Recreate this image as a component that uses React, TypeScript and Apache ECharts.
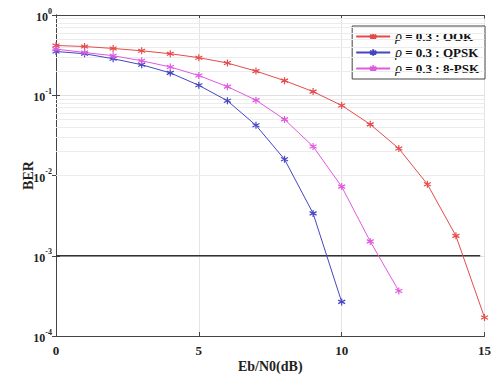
import React, { useEffect, useRef } from "react";
import * as echarts from "echarts";

const snrDb = [0, 1, 2, 3, 4, 5, 6, 7, 8, 9, 10, 11, 12, 13, 14, 15];
const berOOK = [0.417, 0.405, 0.383, 0.358, 0.329, 0.294, 0.252, 0.2, 0.152, 0.111, 0.0746, 0.0434, 0.0217, 0.00778, 0.00177, 0.00017];
const berQPSK = [0.351, 0.329, 0.285, 0.24, 0.19, 0.133, 0.0853, 0.0422, 0.0159, 0.00337, 0.000266];
const ber8PSK = [0.376, 0.341, 0.311, 0.269, 0.225, 0.176, 0.128, 0.0869, 0.05, 0.023, 0.00727, 0.00151, 0.000364];
const thresholdBER = 0.001;
const seriesNames = ["\u03c1 = 0.3 : OOK", "\u03c1 = 0.3 : QPSK", "\u03c1 = 0.3 : 8-PSK"];
const seriesColors = ["#e54b4b", "#4646c4", "#e05ae0"];

const FONT = "Liberation Serif";
const STAR = "path://M5,0L5,10M0.67,2.5L9.33,7.5M0.67,7.5L9.33,2.5";

function minorValues(): number[] {
  const out: number[] = [];
  for (let e = -4; e < 0; e++) {
    for (let m = 2; m <= 9; m++) out.push(m * Math.pow(10, e));
  }
  return out;
}

export default function App() {
  const ref = useRef<HTMLDivElement>(null);
  useEffect(() => {
    if (!ref.current) return;
    const chart = echarts.init(ref.current, null, { renderer: "svg" });
    const mk = (vals: number[], i: number) => ({
      name: seriesNames[i],
      type: "line",
      data: vals.map((v, k) => [snrDb[k], v]),
      symbol: STAR,
      symbolSize: 7,
      showSymbol: true,
      lineStyle: { color: seriesColors[i], width: 1 },
      itemStyle: { color: seriesColors[i], borderColor: seriesColors[i], borderWidth: 1.2 },
      z: 5 + i,
    });
    const yLabel = (v: number) => {
      const e = Math.round(Math.log10(v));
      return `{b|10}{s|${e}}`;
    };
    chart.setOption({
      animation: false,
      backgroundColor: "#ffffff",
      grid: { left: 56, right: 8, top: 15, bottom: 40, containLabel: false },
      legend: {
        data: seriesNames,
        orient: "vertical",
        right: 9,
        top: 26,
        itemWidth: 34,
        itemHeight: 8,
        itemGap: 1,
        padding: [3, 6, 3, 3],
        backgroundColor: "#ffffff",
        borderColor: "#444",
        borderWidth: 1,
        textStyle: {
          fontFamily: FONT,
          fontSize: 13,
          color: "#111",
          lineHeight: 15,
          rich: {
            i: { fontFamily: FONT, fontStyle: "italic", fontSize: 14, color: "#111", lineHeight: 15 },
            b: { fontFamily: FONT, fontWeight: "bold", fontSize: 13, color: "#111", lineHeight: 15 },
          },
        },
        formatter: (n: string) => `{i|\u03c1}{b|${n.slice(1)}}`,
      },
      xAxis: [
        {
          type: "value",
          min: 0,
          max: 15,
          interval: 5,
          name: "Eb/N0(dB)",
          nameLocation: "middle",
          nameGap: 23,
          nameMoveOverlap: false,
          nameTextStyle: { fontFamily: FONT, fontWeight: "bold", fontSize: 14, color: "#222" },
          axisLine: { lineStyle: { color: "#444", width: 1 } },
          axisTick: { inside: true, length: 4, lineStyle: { color: "#444" } },
          axisLabel: { fontFamily: FONT, fontWeight: "bold", fontSize: 13, color: "#222", margin: 8 },
          splitLine: { show: true, lineStyle: { color: "#e4e4e4", width: 1 } },
        },
        {
          type: "value",
          min: 0,
          max: 15,
          interval: 5,
          position: "top",
          axisLine: { show: true, lineStyle: { color: "#444", width: 1 } },
          axisTick: { show: true, inside: true, length: 4, lineStyle: { color: "#444" } },
          axisLabel: { show: false },
          splitLine: { show: false },
        },
      ],
      yAxis: [
        {
          type: "log",
          logBase: 10,
          min: 0.0001,
          max: 1,
          name: "BER",
          nameLocation: "middle",
          nameGap: 21,
          nameMoveOverlap: false,
          nameRotate: 90,
          nameTextStyle: { fontFamily: FONT, fontWeight: "bold", fontSize: 14, color: "#222" },
          axisLine: { show: true, lineStyle: { color: "#444", width: 1 } },
          axisTick: { show: true, inside: true, length: 4, lineStyle: { color: "#444" } },
          axisLabel: {
            formatter: yLabel,
            margin: 4,
            rich: {
              b: { fontFamily: FONT, fontWeight: "bold", fontSize: 12, color: "#222", verticalAlign: "bottom", lineHeight: 16 },
              s: { fontFamily: FONT, fontWeight: "bold", fontSize: 8, color: "#222", verticalAlign: "top", lineHeight: 10 },
            },
          },
          splitLine: { show: true, lineStyle: { color: "#e0e0e0", width: 1 } },
        },
        {
          type: "log",
          logBase: 10,
          min: 0.0001,
          max: 1,
          position: "right",
          axisLine: { show: true, lineStyle: { color: "#444", width: 1 } },
          axisTick: { show: true, inside: true, length: 4, lineStyle: { color: "#444" } },
          axisLabel: { show: false },
          splitLine: { show: false },
        },
      ],
      series: [
        {
          name: "minor",
          type: "line",
          data: [],
          silent: true,
          markLine: {
            silent: true,
            symbol: "none",
            label: { show: false },
            lineStyle: { color: "#ececec", width: 1, type: "solid" },
            data: minorValues().map((v) => ({ yAxis: v })),
          },
          z: 1,
        },
        {
          name: "threshold",
          type: "line",
          data: [
            [snrDb[0], thresholdBER],
            [snrDb[snrDb.length - 1] - 0.15, thresholdBER],
          ],
          showSymbol: false,
          symbol: "none",
          lineStyle: { color: "#333", width: 1.5 },
          z: 4,
        },
        mk(berOOK, 0),
        mk(berQPSK, 1),
        mk(ber8PSK, 2),
      ],
    });
    return () => chart.dispose();
  }, []);
  return <div ref={ref} style={{ width: 494, height: 378, position: "absolute", left: 0, top: 0 }} />;
}
